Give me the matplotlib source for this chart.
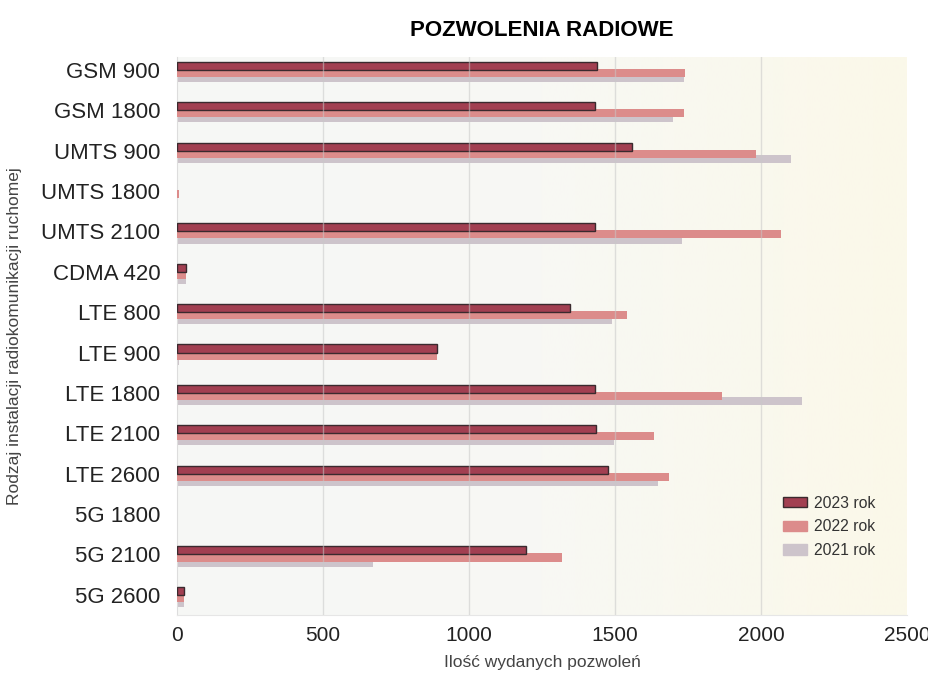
import numpy as np
import matplotlib
matplotlib.use("Agg")
import matplotlib.pyplot as plt
from matplotlib.colors import LinearSegmentedColormap
from matplotlib.patches import Patch

plt.rcParams['font.family'] = ['Liberation Sans', 'DejaVu Sans']

categories = ["GSM 900", "GSM 1800", "UMTS 900", "UMTS 1800", "UMTS 2100", "CDMA 420",
              "LTE 800", "LTE 900", "LTE 1800", "LTE 2100", "LTE 2600", "5G 1800",
              "5G 2100", "5G 2600"]
v2023 = [1440, 1430, 1557, 0, 1430, 30, 1346, 892, 1430, 1434, 1476, 0, 1195, 24]
v2022 = [1741, 1735, 1983, 8, 2068, 30, 1541, 889, 1866, 1635, 1685, 0, 1319, 24]
v2021 = [1736, 1699, 2103, 5, 1731, 30, 1490, 8, 2141, 1497, 1648, 0, 671, 24]
series_labels = ["2023 rok", "2022 rok", "2021 rok"]
xticks = [0, 500, 1000, 1500, 2000, 2500]

c23, e23 = "#a23f51", "#3a2a2e"
c22 = "#dc8c8b"
c21 = "#cdc4cb"

fig = plt.figure(figsize=(9.29, 6.75), dpi=100)
ax = fig.add_axes([177/929, 1-615/675, 730/929, 558/675])

# background gradient
cmap = LinearSegmentedColormap.from_list("bg", ["#f6f7f6", "#f8f8f4", "#fbf8e9"])
grad = np.linspace(0, 1, 256).reshape(1, -1)
ax.imshow(grad, aspect="auto", cmap=cmap, extent=[0, 2500, 13.5, -0.32], zorder=0)

y = np.arange(len(categories))
h = 0.2
ax.barh(y + 0.2, v2021, height=h, color=c21, zorder=2)
ax.barh(y + 0.075, v2022, height=h, color=c22, zorder=3)
lw23 = [1.0 if v > 0 else 0.0 for v in v2023]
ax.barh(y - 0.1, v2023, height=h, color=c23, edgecolor=e23, linewidth=lw23, zorder=4)

for xv in xticks[1:-1]:
    ax.axvline(xv, color="#c8c8c8", linewidth=1.0, alpha=0.55, zorder=5)

ax.set_xlim(0, 2500)
ax.set_ylim(13.5, -0.32)
ax.set_xticks(xticks)
ax.set_xticklabels([str(t) for t in xticks], fontsize=15, color="#222222")
ax.set_yticks(y)
ax.set_yticklabels(categories, fontsize=16, color="#222222")
ax.tick_params(axis="both", length=0)
ax.tick_params(axis="x", pad=8)
ax.tick_params(axis="y", pad=12)
for s in ["top", "right"]:
    ax.spines[s].set_visible(False)
ax.spines["left"].set_color("#dddddd")
ax.spines["bottom"].set_color("#e6e6e6")

ax.set_title("POZWOLENIA RADIOWE", fontsize=16, fontweight="bold", pad=15)
ax.set_xlabel("Ilość wydanych pozwoleń", fontsize=12.5, color="#444444", labelpad=7)
ax.set_ylabel("Rodzaj instalacji radiokomunikacji ruchomej", fontsize=12.5, color="#444444", labelpad=14)

handles = [Patch(facecolor=c23, edgecolor=e23, linewidth=1.0),
           Patch(facecolor=c22, edgecolor=c22),
           Patch(facecolor=c21, edgecolor=c21)]
ax.legend(handles, series_labels, loc="upper left", bbox_to_anchor=(0.82, 0.228),
          frameon=False, fontsize=11.3, borderpad=0, handlelength=1.47,
          handleheight=0.64, handletextpad=0.45, labelspacing=0.56,
          labelcolor="#333333")

fig.savefig("out.png", dpi=100, facecolor="white")
